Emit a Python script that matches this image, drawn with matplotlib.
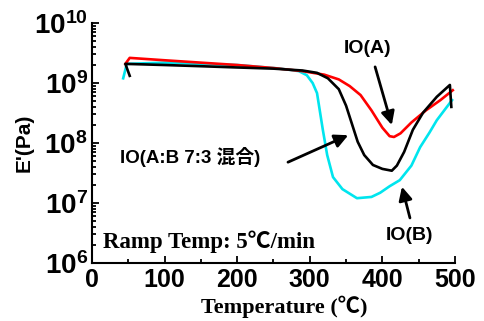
import math
import matplotlib
matplotlib.use("Agg")
import matplotlib.pyplot as plt
from matplotlib.ticker import LogLocator, MultipleLocator, FuncFormatter

plt.rcParams['mathtext.fontset'] = 'custom'
plt.rcParams['mathtext.bf'] = 'Liberation Sans:bold'
plt.rcParams['mathtext.rm'] = 'Liberation Sans:bold'

# IO(A) - red
temp_a = [46, 52, 100, 150, 200, 250, 290, 320, 340, 355, 370, 385, 400, 410, 416, 425, 440, 460, 480, 497]
e_a = [2.09e9, 2.63e9, 2.40e9, 2.19e9, 2.00e9, 1.78e9, 1.58e9, 1.38e9, 1.15e9, 8.9e8,
       6.3e8, 3.5e8, 1.8e8, 1.3e8, 1.26e8, 1.45e8, 2.2e8, 3.5e8, 5.2e8, 7.6e8]

# IO(A:B 7:3) - black
temp_m = [52, 46, 100, 150, 200, 250, 290, 310, 325, 340, 350, 358, 366, 375, 387, 400,
          413, 420, 430, 442, 456, 475, 493, 495]
e_m = [1.32e9, 2.09e9, 2.00e9, 1.91e9, 1.82e9, 1.74e9, 1.62e9, 1.48e9, 1.20e9, 7.9e8,
       4.2e8, 2.1e8, 1.05e8, 6.3e7, 4.3e7, 3.7e7, 3.45e7, 4.2e7, 7.1e7, 1.66e8,
       3.2e8, 5.9e8, 9.3e8, 4.0e8]

# IO(B) - cyan
temp_b = [43, 48, 100, 150, 200, 260, 285, 296, 304, 310, 318, 324, 332, 345, 365, 385,
          397, 410, 424, 440, 452, 465, 475, 486, 496]
e_b = [1.2e9, 2.09e9, 2.19e9, 2.09e9, 2.0e9, 1.74e9, 1.58e9, 1.35e9, 1.0e9, 6.8e8,
       1.66e8, 6.3e7, 2.7e7, 1.7e7, 1.2e7, 1.26e7, 1.48e7, 1.9e7, 2.4e7, 4.2e7,
       8.5e7, 1.5e8, 2.4e8, 3.6e8, 5.2e8]

fig = plt.figure(figsize=(4.84, 3.21), dpi=100)
ax = fig.add_axes([0.190, 0.181, 0.750, 0.747])

ax.plot(temp_b, e_b, color='#00e5ee', lw=1.9)
ax.plot(temp_a, e_a, color='red', lw=1.9)
ax.plot(temp_m, e_m, color='black', lw=1.9)

ax.set_yscale('log')
ax.set_xlim(0, 500)
ax.set_ylim(1e6, 1e10)

ax.spines['top'].set_visible(False)
ax.spines['right'].set_visible(False)
ax.spines['left'].set_linewidth(1.5)
ax.spines['bottom'].set_linewidth(1.5)

ax.xaxis.set_major_locator(MultipleLocator(100))
ax.xaxis.set_minor_locator(MultipleLocator(50))
ax.yaxis.set_major_locator(LogLocator(base=10, numticks=10))
ax.yaxis.set_minor_locator(LogLocator(base=10, subs=range(2, 10), numticks=20))
ax.yaxis.set_major_formatter(FuncFormatter(lambda v, p: r'$\mathbf{10^{%d}}$' % round(math.log10(v))))
ax.tick_params(which='both', direction='in', width=1.3)
ax.tick_params(which='major', length=5)
ax.tick_params(which='minor', length=3)
ax.tick_params(axis='x', labelsize=18, pad=4)
ax.tick_params(axis='y', labelsize=20, pad=3)
for lab in ax.get_xticklabels():
    lab.set_fontweight('bold')
    lab.set_family('Liberation Sans')

serif = ['Liberation Serif', 'Noto Sans CJK JP', 'DejaVu Serif']
sans = ['Liberation Sans', 'Noto Sans CJK JP']

ax.set_ylabel("E'(Pa)", fontsize=15, fontweight='bold', family='Liberation Sans')
ax.yaxis.set_label_coords(-0.16, 0.5)
ax.set_xlabel("Temperature (℃)", fontsize=16, fontweight='bold', family=serif)
ax.xaxis.set_label_coords(0.53, -0.135)

aprops = dict(arrowstyle='-|>', color='black', lw=2, mutation_scale=20, shrinkA=0, shrinkB=0)

ax.text(379, 10**9.58, 'IO(A)', fontsize=14, fontweight='bold', family=sans, ha='center', va='center')
ax.annotate('', xy=(413, 10**8.3), xytext=(390, 10**9.27), arrowprops=aprops)

ax.text(438, 10**6.45, 'IO(B)', fontsize=14, fontweight='bold', family=sans, ha='center', va='center')
ax.annotate('', xy=(427, 10**7.27), xytext=(438, 10**6.75), arrowprops=aprops)

ax.text(38, 10**7.77, 'IO(A:B 7:3 混合)', fontsize=13.5, fontweight='bold', family=sans, ha='left', va='center')
ax.annotate('', xy=(353, 10**8.13), xytext=(270, 10**7.68), arrowprops=aprops)

ax.text(15, 10**6.35, 'Ramp Temp: 5℃/min', fontsize=16.5, fontweight='bold', family=serif,
        ha='left', va='center')

fig.savefig('out.png', dpi=100)
